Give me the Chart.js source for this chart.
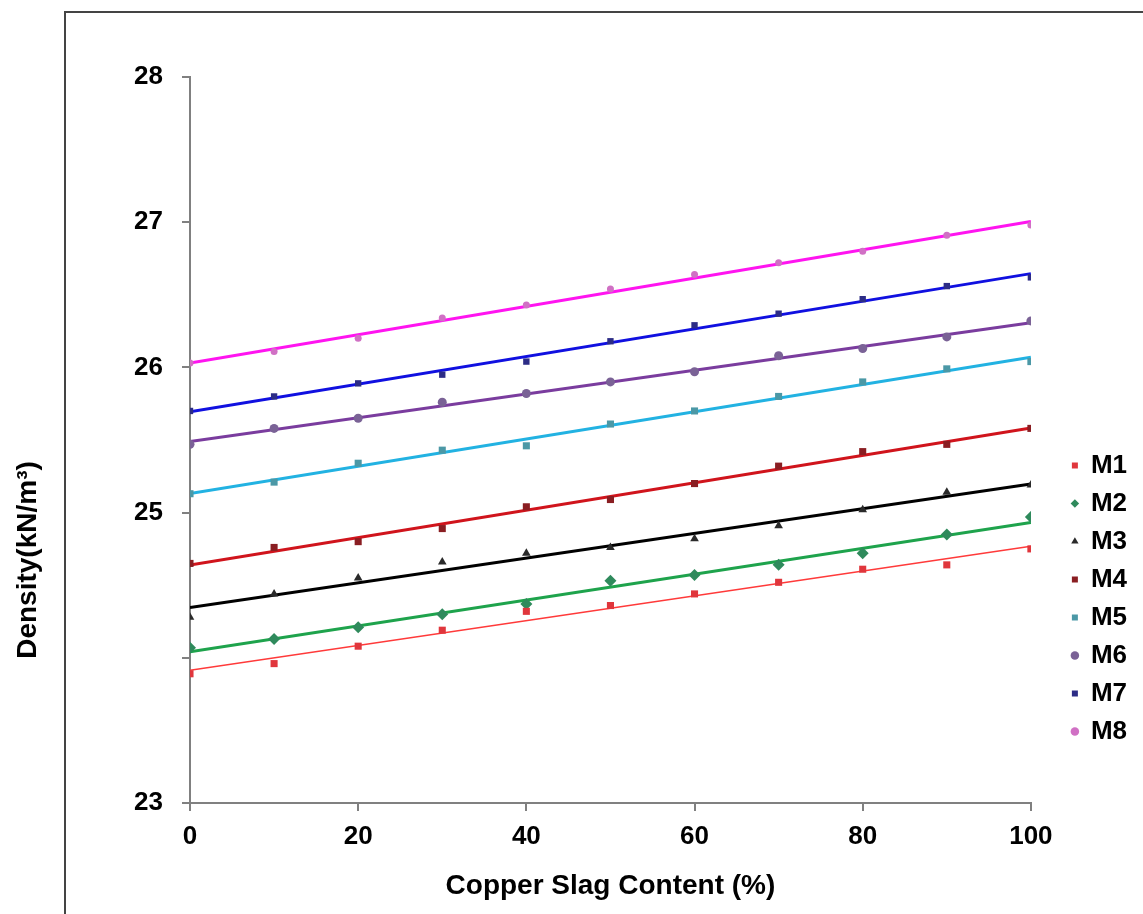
<!DOCTYPE html>
<html>
<head>
<meta charset="utf-8">
<title>Density vs copper slag content</title>
<script src="https://cdn.jsdelivr.net/npm/chart.js@4.4.0/dist/chart.umd.min.js"></script>
<style>
  html, body { margin: 0; padding: 0; background: #fff; overflow: hidden; }
  #wrap { position: relative; width: 1143px; height: 914px; }
  #frame { position: absolute; left: 64px; top: 11px; width: 1200px; height: 1000px;
           border-left: 2px solid #444; border-top: 2px solid #444; }
  #densityChart { position: absolute; left: 0; top: 0; }
</style>
</head>
<body>
<div id="wrap">
  <div id="frame"></div>
  <canvas id="densityChart" width="1143" height="914"></canvas>
</div>
<script>
// copper slag replacement (%)
const slagContent = [0, 10, 20, 30, 40, 50, 60, 70, 80, 90, 100];

// density (kN/m3) per mix
const densityM1 = [23.89, 23.96, 24.08, 24.19, 24.32, 24.36, 24.44, 24.52, 24.61, 24.64, 24.75];
const densityM2 = [24.07, 24.13, 24.21, 24.30, 24.37, 24.53, 24.57, 24.64, 24.72, 24.85, 24.97];
const densityM3 = [24.28, 24.44, 24.55, 24.66, 24.72, 24.76, 24.82, 24.91, 25.02, 25.14, 25.19];
const densityM4 = [24.65, 24.76, 24.80, 24.89, 25.04, 25.09, 25.20, 25.32, 25.42, 25.47, 25.58];
const densityM5 = [25.13, 25.21, 25.34, 25.43, 25.46, 25.61, 25.70, 25.80, 25.90, 25.99, 26.04];
const densityM6 = [25.47, 25.58, 25.65, 25.76, 25.82, 25.90, 25.97, 26.08, 26.13, 26.21, 26.32];
const densityM7 = [25.70, 25.80, 25.89, 25.95, 26.04, 26.18, 26.29, 26.37, 26.47, 26.56, 26.62];
const densityM8 = [26.03, 26.11, 26.20, 26.34, 26.43, 26.54, 26.64, 26.72, 26.80, 26.91, 26.98];

const mixNames = ['M1', 'M2', 'M3', 'M4', 'M5', 'M6', 'M7', 'M8'];
const mixValues = [densityM1, densityM2, densityM3, densityM4, densityM5, densityM6, densityM7, densityM8];

// marker / trendline look for each mix
const mixStyles = [
  { marker: 'rect',     markerColor: '#e0363c', lineColor: '#ff3a3a', lineWidth: 1.5, radius: 5 },
  { marker: 'rectRot',  markerColor: '#2f8a5c', lineColor: '#1ea34c', lineWidth: 3,   radius: 6 },
  { marker: 'triangle', markerColor: '#2a2a2a', lineColor: '#000000', lineWidth: 3,   radius: 5 },
  { marker: 'rect',     markerColor: '#8a1e22', lineColor: '#d0141c', lineWidth: 3,   radius: 5 },
  { marker: 'rect',     markerColor: '#4b98a6', lineColor: '#22b2e2', lineWidth: 3,   radius: 5 },
  { marker: 'circle',   markerColor: '#7a6296', lineColor: '#7a3c9e', lineWidth: 3,   radius: 4.5 },
  { marker: 'rect',     markerColor: '#2c2c86', lineColor: '#1010e0', lineWidth: 3,   radius: 4.5 },
  { marker: 'circle',   markerColor: '#d070c4', lineColor: '#ff14f0', lineWidth: 3,   radius: 3.5 }
];

const boldFont = 'Liberation Sans, Arial, sans-serif';

// least-squares linear trend through the measured points
function trendPoints(xs, ys) {
  const n = xs.length;
  const mx = xs.reduce((a, b) => a + b, 0) / n;
  const my = ys.reduce((a, b) => a + b, 0) / n;
  let sxy = 0, sxx = 0;
  xs.forEach((x, i) => {
    sxy += (x - mx) * (ys[i] - my);
    sxx += (x - mx) * (x - mx);
  });
  const slope = sxy / sxx;
  const first = xs[0], last = xs[n - 1];
  return [
    { x: first, y: my + slope * (first - mx) },
    { x: last, y: my + slope * (last - mx) }
  ];
}

const markerSets = mixNames.map((name, i) => ({
  label: name,
  data: slagContent.map((x, j) => ({ x: x, y: mixValues[i][j] })),
  showLine: false,
  pointStyle: mixStyles[i].marker,
  pointRadius: mixStyles[i].radius,
  backgroundColor: mixStyles[i].markerColor,
  borderColor: mixStyles[i].markerColor,
  borderWidth: 0
}));

const trendSets = mixNames.map((name, i) => ({
  label: name + ' trend',
  data: trendPoints(slagContent, mixValues[i]),
  showLine: true,
  pointRadius: 0,
  borderColor: mixStyles[i].lineColor,
  borderWidth: mixStyles[i].lineWidth,
  backgroundColor: mixStyles[i].lineColor
}));

// rotated y-axis title with superscript unit
const yTitlePlugin = {
  id: 'yTitle',
  afterDraw(chart) {
    const ctx = chart.ctx;
    ctx.save();
    ctx.translate(28, 560);
    ctx.rotate(-Math.PI / 2);
    ctx.font = 'bold 28px ' + boldFont;
    ctx.fillStyle = '#000';
    ctx.textAlign = 'center';
    ctx.textBaseline = 'middle';
    ctx.fillText('Density(kN/m\u00B3)', 0, 0);
    ctx.restore();
  }
};

// push the legend column down and away from the plot
const legendShift = {
  id: 'legendShift',
  afterLayout(chart) {
    const lg = chart.legend;
    lg.left += 29; lg.right += 29;
    lg.top += 103; lg.bottom += 103;
  }
};

const ctx = document.getElementById('densityChart').getContext('2d');
const densityChart = new Chart(ctx, {
  type: 'scatter',
  data: { datasets: markerSets.concat(trendSets) },
  options: {
    responsive: false,
    animation: false,
    layout: { padding: { top: 77, right: 35, bottom: 0, left: 0 } },
    plugins: {
      tooltip: { enabled: false },
      legend: {
        position: 'right',
        align: 'center',
        labels: {
          filter: item => item.datasetIndex < mixNames.length,
          usePointStyle: true,
          boxWidth: 6,
          boxHeight: 6,
          padding: 12,
          color: '#000',
          font: { family: boldFont, size: 26, weight: 'bold' }
        }
      }
    },
    scales: {
      x: {
        type: 'linear',
        min: 0,
        max: 100,
        ticks: {
          stepSize: 20,
          color: '#000',
          padding: 10,
          font: { family: boldFont, size: 26, weight: 'bold' }
        },
        grid: { drawOnChartArea: false, drawTicks: true, tickLength: 8, color: '#808080', lineWidth: 2 },
        border: { color: '#808080', width: 2 },
        title: {
          display: true,
          text: 'Copper Slag Content (%)',
          color: '#000',
          padding: { top: 4, bottom: 11 },
          font: { family: boldFont, size: 28, weight: 'bold' }
        },
        afterFit: scale => { scale.height = 111; }
      },
      y: {
        min: 23,
        max: 28,
        ticks: {
          stepSize: 1,
          color: '#000',
          padding: 19,
          font: { family: boldFont, size: 26, weight: 'bold' },
          callback: v => (v === 24 ? '' : v)
        },
        grid: { drawOnChartArea: false, drawTicks: true, tickLength: 8, color: '#808080', lineWidth: 2 },
        border: { color: '#808080', width: 2 },
        afterFit: scale => { scale.width = 190; }
      }
    }
  },
  plugins: [yTitlePlugin, legendShift]
});
</script>
</body>
</html>
